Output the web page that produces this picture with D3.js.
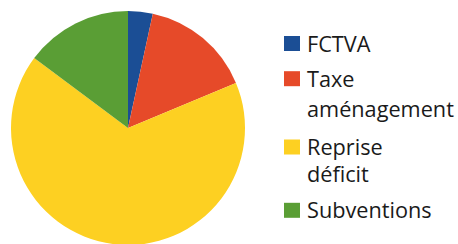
<!DOCTYPE html>
<html lang="fr">
<head>
  <meta charset="UTF-8">
  <title>Recettes</title>
  <script src="https://d3js.org/d3.v7.min.js"></script>
  <style>
    body { margin: 0; overflow: hidden; background: #fff; }
    .legend { font-family: 'Open Sans', sans-serif; font-size: 21.7px; fill: #1a1a1a; }
  </style>
</head>
<body>
<div id="chart"></div>
<script>
    // Slices, clockwise from 12 o'clock
    const categories = ["FCTVA", "Taxe aménagement", "Reprise déficit", "Subventions"];
    const values = [3.4, 15.3, 66.5, 14.8];
    const colors = ["#1b4e95", "#e64a29", "#fdd022", "#5a9e35"];
    // Legend text, split on two lines where the original wraps
    const legendLines = [["FCTVA"], ["Taxe", "aménagement"], ["Reprise", "déficit"], ["Subventions"]];

    const width = 458, height = 244;
    const cx = 128, cy = 128, radius = 117;

    const svg = d3.select("#chart")
        .append("svg")
        .attr("width", width)
        .attr("height", height);

    const color = d3.scaleOrdinal()
        .domain(categories)
        .range(colors);

    const pie = d3.pie()
        .sort(null)
        .value(d => d.value);

    const arc = d3.arc()
        .innerRadius(0)
        .outerRadius(radius);

    const data = categories.map((c, i) => ({ name: c, value: values[i] }));

    svg.append("g")
        .attr("transform", `translate(${cx},${cy})`)
        .selectAll("path")
        .data(pie(data))
        .enter()
        .append("path")
        .attr("d", arc)
        .style("fill", d => color(d.data.name));

    // Legend (baselines of each item's first line, and line spacing)
    const itemY = [51.5, 86.7, 155, 218.3];
    const lineH = [0, 30, 26.7, 0];
    const sq = 16;
    const legend = svg.append("g")
        .attr("class", "legend")
        .attr("transform", "translate(284, 0)");

    categories.forEach((c, i) => {
        const item = legend.append("g").attr("transform", `translate(0, ${itemY[i]})`);
        item.append("rect")
            .attr("x", 0)
            .attr("y", -15.5)
            .attr("width", sq)
            .attr("height", 15)
            .style("fill", color(c));
        legendLines[i].forEach((t, j) => {
            item.append("text")
                .attr("x", 23)
                .attr("y", j * lineH[i])
                .text(t);
        });
    });
</script>
</body>
</html>
